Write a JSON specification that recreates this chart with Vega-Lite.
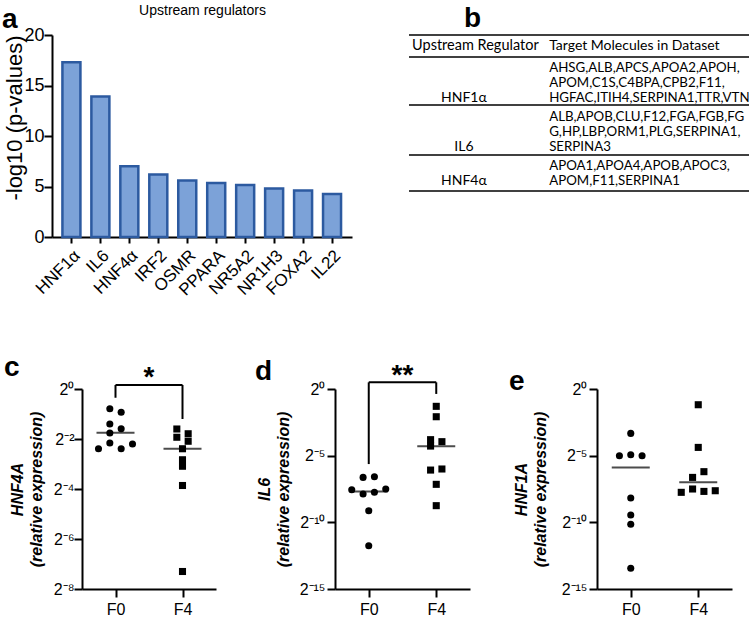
{
  "$schema": "https://vega.github.io/schema/vega-lite/v6.json",
  "padding": {"left": 2, "top": 3, "right": 0, "bottom": 0},
  "config": {
    "view": {"stroke": null},
    "font": "Liberation Sans",
    "axis": {"domainColor": "black", "domainWidth": 2, "tickColor": "black", "tickWidth": 2, "tickSize": 8, "labelColor": "black", "labelFont": "Liberation Sans", "labelFontSize": 16, "titleFont": "Liberation Sans", "titleColor": "black", "grid": false},
    "title": {"font": "Liberation Sans", "color": "black"}
  },
  "spacing": 54,
  "vconcat": [
    {
      "spacing": 26,
      "hconcat": [
        {
          "title": {"text": "a", "fontSize": 28, "fontWeight": "bold", "anchor": "start", "frame": "group", "dx": -80, "offset": -31},
          "width": 270,
          "height": 202,
          "data": {"values": [
            {"regulator": "HNF1α", "neglog10p": 17.3},
            {"regulator": "IL6", "neglog10p": 13.9},
            {"regulator": "HNF4α", "neglog10p": 7.0},
            {"regulator": "IRF2", "neglog10p": 6.2},
            {"regulator": "OSMR", "neglog10p": 5.6},
            {"regulator": "PPARA", "neglog10p": 5.35},
            {"regulator": "NR5A2", "neglog10p": 5.15},
            {"regulator": "NR1H3", "neglog10p": 4.8},
            {"regulator": "FOXA2", "neglog10p": 4.6},
            {"regulator": "IL22", "neglog10p": 4.25}
          ]},
          "resolve": {"axis": {"x": "independent"}},
          "layer": [
            {
              "mark": {"type": "bar", "fill": "#7ca2d8", "stroke": "#2c5aa0", "strokeWidth": 2.5},
              "encoding": {
                "x": {"field": "regulator", "type": "nominal", "sort": null, "scale": {"paddingInner": 0.36, "paddingOuter": 0.36, "range": [-30, 270]}, "axis": {"title": null, "labelAngle": -45, "labelFontSize": 17, "labelPadding": 4, "tickSize": 6}},
                "y": {"field": "neglog10p", "type": "quantitative", "scale": {"domain": [0, 20]}, "axis": {"title": "-log10 (p-values)", "values": [0, 5, 10, 15, 20], "offset": 30, "labelFontSize": 18, "titleFontSize": 22, "titleFontWeight": "normal", "titleAnchor": "end", "labelPadding": 0, "tickSize": 8, "titlePadding": -3}}
              }
            },
            {
              "mark": {"type": "bar", "opacity": 0},
              "encoding": {
                "x": {"field": "regulator", "type": "nominal", "sort": null, "scale": {"paddingInner": 0.36, "paddingOuter": 0.36, "range": [-30, 270]}, "axis": {"orient": "top", "title": "Upstream regulators", "domain": false, "ticks": false, "labels": false, "titleFontSize": 14, "titleFontWeight": "normal", "titlePadding": 18}},
                "y": {"field": "neglog10p", "type": "quantitative", "scale": {"domain": [0, 20]}, "axis": {"title": "-log10 (p-values)", "values": [0, 5, 10, 15, 20], "offset": 30, "labelFontSize": 18, "titleFontSize": 22, "titleFontWeight": "normal", "titleAnchor": "end", "labelPadding": 0, "tickSize": 8, "titlePadding": -3}}
              }
            }
          ]
        },
        {
          "title": {"text": "b", "fontSize": 28, "fontWeight": "bold", "anchor": "start", "frame": "group", "dx": 55, "offset": 1},
          "width": 341,
          "height": 156,
          "data": {"values": [
            {"column": "hdr_reg", "line": 0.73, "text": "Upstream Regulator"},
            {"column": "hdr_targets", "line": 0.73, "text": "Target Molecules in Dataset"},
            {"column": "targets", "line": 2.2, "text": "AHSG,ALB,APCS,APOA2,APOH,"},
            {"column": "targets", "line": 3.2, "text": "APOM,C1S,C4BPA,CPB2,F11,"},
            {"column": "targets", "line": 4.2, "text": "HGFAC,ITIH4,SERPINA1,TTR,VTN"},
            {"column": "regulator", "line": 4.2, "text": "HNF1α"},
            {"column": "targets", "line": 5.47, "text": "ALB,APOB,CLU,F12,FGA,FGB,FG"},
            {"column": "targets", "line": 6.47, "text": "G,HP,LBP,ORM1,PLG,SERPINA1,"},
            {"column": "targets", "line": 7.47, "text": "SERPINA3"},
            {"column": "regulator", "line": 7.47, "text": "IL6"},
            {"column": "targets", "line": 8.73, "text": "APOA1,APOA4,APOB,APOC3,"},
            {"column": "targets", "line": 9.73, "text": "APOM,F11,SERPINA1"},
            {"column": "regulator", "line": 9.73, "text": "HNF4α"},
            {"column": "rule", "line": 0},
            {"column": "rule", "line": 1.47},
            {"column": "rule", "line": 4.67},
            {"column": "rule", "line": 8.0},
            {"column": "rule", "line": 10.4}
          ]},
          "layer": [
            {
              "transform": [{"filter": "datum.column == 'rule'"}],
              "mark": {"type": "rule", "color": "black", "strokeWidth": 1.5},
              "encoding": {"y": {"field": "line", "type": "quantitative", "scale": {"domain": [0, 10.4], "reverse": true}, "axis": null}}
            },
            {
              "transform": [{"filter": "datum.column == 'hdr_reg'"}],
              "mark": {"type": "text", "font": "Lato", "fontSize": 14.5, "align": "left", "baseline": "middle", "color": "black"},
              "encoding": {
                "x": {"datum": 0.9, "type": "quantitative", "scale": {"domain": [0, 100]}, "axis": null},
                "y": {"field": "line", "type": "quantitative", "scale": {"domain": [0, 10.4], "reverse": true}, "axis": null},
                "text": {"field": "text"}
              }
            },
            {
              "transform": [{"filter": "datum.column == 'hdr_targets'"}],
              "mark": {"type": "text", "font": "Lato", "fontSize": 14, "align": "left", "baseline": "middle", "color": "black"},
              "encoding": {
                "x": {"datum": 41.1, "type": "quantitative", "scale": {"domain": [0, 100]}, "axis": null},
                "y": {"field": "line", "type": "quantitative", "scale": {"domain": [0, 10.4], "reverse": true}, "axis": null},
                "text": {"field": "text"}
              }
            },
            {
              "transform": [{"filter": "datum.column == 'targets'"}],
              "mark": {"type": "text", "font": "Lato", "fontSize": 13.3, "align": "left", "baseline": "middle", "color": "black"},
              "encoding": {
                "x": {"datum": 41.1, "type": "quantitative", "scale": {"domain": [0, 100]}, "axis": null},
                "y": {"field": "line", "type": "quantitative", "scale": {"domain": [0, 10.4], "reverse": true}, "axis": null},
                "text": {"field": "text"}
              }
            },
            {
              "transform": [{"filter": "datum.column == 'regulator'"}],
              "mark": {"type": "text", "font": "Lato", "fontSize": 14, "align": "center", "baseline": "middle", "color": "black"},
              "encoding": {
                "x": {"datum": 16.1, "type": "quantitative", "scale": {"domain": [0, 100]}, "axis": null},
                "y": {"field": "line", "type": "quantitative", "scale": {"domain": [0, 10.4], "reverse": true}, "axis": null},
                "text": {"field": "text"}
              }
            }
          ]
        }
      ]
    },
    {
      "spacing": 39,
      "hconcat": [
        {
          "title": {"text": "c", "fontSize": 28, "fontWeight": "bold", "anchor": "start", "frame": "group", "dx": -78, "offset": -18},
          "width": 134,
          "height": 200,
          "layer": [
            {
              "data": {"values": [
                {"group": "F0", "slot": -0.5, "log2expr": -0.79},
                {"group": "F0", "slot": 0.5, "log2expr": -0.93},
                {"group": "F0", "slot": -0.5, "log2expr": -1.4},
                {"group": "F0", "slot": 0.5, "log2expr": -1.59},
                {"group": "F0", "slot": -0.5, "log2expr": -1.76},
                {"group": "F0", "slot": -1.5, "log2expr": -2.39},
                {"group": "F0", "slot": -0.5, "log2expr": -2.16},
                {"group": "F0", "slot": 0.5, "log2expr": -2.39},
                {"group": "F0", "slot": 1.5, "log2expr": -2.2},
                {"group": "F4", "slot": -0.5, "log2expr": -1.6},
                {"group": "F4", "slot": 0.5, "log2expr": -1.79},
                {"group": "F4", "slot": -0.5, "log2expr": -1.93},
                {"group": "F4", "slot": 0.5, "log2expr": -2.09},
                {"group": "F4", "slot": 0, "log2expr": -2.39},
                {"group": "F4", "slot": 0, "log2expr": -2.83},
                {"group": "F4", "slot": 0, "log2expr": -3.09},
                {"group": "F4", "slot": 0, "log2expr": -3.86},
                {"group": "F4", "slot": 0, "log2expr": -7.3}
              ]},
              "mark": {"type": "point", "filled": true, "color": "black", "opacity": 1, "size": 50},
              "encoding": {
                "x": {"field": "group", "type": "nominal", "scale": {"type": "point", "domain": ["F0", "F0 vs F4", "F4"], "padding": 1.31}, "axis": {"title": null, "values": ["F0", "F4"], "labelAngle": 0, "labelPadding": 4}},
                "xOffset": {"field": "slot", "type": "quantitative", "scale": {"domain": [-1.5, 1.5], "range": [-17, 17]}},
                "y": {"field": "log2expr", "type": "quantitative", "scale": {"domain": [-8, 0]}, "axis": {"title": ["HNF4A", "(relative expression)"], "values": [0, -2, -4, -6, -8], "labelExpr": "datum.value == 0 ? '2⁰' : datum.value == -2 ? '2⁻²' : datum.value == -4 ? '2⁻⁴' : datum.value == -6 ? '2⁻⁶' : '2⁻⁸'", "titleFontSize": 16, "titleFontWeight": "bold", "titleFontStyle": "italic", "titleLineHeight": 19, "titlePadding": 9, "labelPadding": 0}},
                "shape": {"field": "group", "type": "nominal", "scale": {"domain": ["F0", "F4"], "range": ["circle", "square"]}, "legend": null}
              }
            },
            {
              "data": {"values": [{"group": "F0", "median": -1.75}, {"group": "F4", "median": -2.39}]},
              "mark": {"type": "tick", "orient": "horizontal", "size": 38, "thickness": 2, "color": "black"},
              "encoding": {"x": {"field": "group", "type": "nominal", "scale": {"type": "point", "domain": ["F0", "F0 vs F4", "F4"], "padding": 1.31}}, "y": {"field": "median", "type": "quantitative", "scale": {"domain": [-8, 0]}}}
            },
            {
              "data": {"values": [{"from": "F0", "to": "F4", "top": 0.16, "end": 0.16}, {"from": "F0", "to": "F0", "top": 0.16, "end": -0.35}, {"from": "F4", "to": "F4", "top": 0.16, "end": -1.2}]},
              "mark": {"type": "rule", "color": "black", "strokeWidth": 2},
              "encoding": {"x": {"field": "from", "type": "nominal", "scale": {"type": "point", "domain": ["F0", "F0 vs F4", "F4"], "padding": 1.31}}, "x2": {"field": "to"}, "y": {"field": "top", "type": "quantitative", "scale": {"domain": [-8, 0]}}, "y2": {"field": "end"}}
            },
            {
              "data": {"values": [{"comparison": "F0 vs F4", "pos": 0.13, "label": "*"}]},
              "mark": {"type": "text", "fontSize": 28, "fontWeight": "bold", "baseline": "alphabetic", "color": "black"},
              "encoding": {"x": {"field": "comparison", "type": "nominal", "scale": {"type": "point", "domain": ["F0", "F0 vs F4", "F4"], "padding": 1.31}}, "y": {"field": "pos", "type": "quantitative", "scale": {"domain": [-8, 0]}}, "text": {"field": "label"}}
            }
          ]
        },
        {
          "title": {"text": "d", "fontSize": 28, "fontWeight": "bold", "anchor": "start", "frame": "group", "dx": -80, "offset": -24},
          "width": 135,
          "height": 200,
          "layer": [
            {
              "data": {"values": [
                {"group": "F0", "slot": -0.5, "log2expr": -6.63},
                {"group": "F0", "slot": 0.5, "log2expr": -6.58},
                {"group": "F0", "slot": -1.5, "log2expr": -7.56},
                {"group": "F0", "slot": -0.5, "log2expr": -7.88},
                {"group": "F0", "slot": 0.5, "log2expr": -7.75},
                {"group": "F0", "slot": 1.5, "log2expr": -7.5},
                {"group": "F0", "slot": 0, "log2expr": -9.13},
                {"group": "F0", "slot": 0, "log2expr": -11.75},
                {"group": "F4", "slot": 0, "log2expr": -1.3},
                {"group": "F4", "slot": 0, "log2expr": -2.08},
                {"group": "F4", "slot": -0.5, "log2expr": -3.8},
                {"group": "F4", "slot": 0.5, "log2expr": -3.95},
                {"group": "F4", "slot": -0.5, "log2expr": -4.28},
                {"group": "F4", "slot": -0.5, "log2expr": -6.08},
                {"group": "F4", "slot": 0.5, "log2expr": -6.0},
                {"group": "F4", "slot": 0, "log2expr": -7.15},
                {"group": "F4", "slot": 0, "log2expr": -8.75}
              ]},
              "mark": {"type": "point", "filled": true, "color": "black", "opacity": 1, "size": 50},
              "encoding": {
                "x": {"field": "group", "type": "nominal", "scale": {"type": "point", "domain": ["F0", "F0 vs F4", "F4"], "padding": 1.31}, "axis": {"title": null, "values": ["F0", "F4"], "labelAngle": 0, "labelPadding": 4}},
                "xOffset": {"field": "slot", "type": "quantitative", "scale": {"domain": [-1.5, 1.5], "range": [-17, 17]}},
                "y": {"field": "log2expr", "type": "quantitative", "scale": {"domain": [-15, 0]}, "axis": {"title": ["IL6", "(relative expression)"], "values": [0, -5, -10, -15], "labelExpr": "datum.value == 0 ? '2⁰' : datum.value == -5 ? '2⁻⁵' : datum.value == -10 ? '2⁻¹⁰' : '2⁻¹⁵'", "titleFontSize": 16, "titleFontWeight": "bold", "titleFontStyle": "italic", "titleLineHeight": 19, "titlePadding": 8, "labelPadding": 2}},
                "shape": {"field": "group", "type": "nominal", "scale": {"domain": ["F0", "F4"], "range": ["circle", "square"]}, "legend": null}
              }
            },
            {
              "data": {"values": [{"group": "F0", "median": -7.68}, {"group": "F4", "median": -4.3}]},
              "mark": {"type": "tick", "orient": "horizontal", "size": 38, "thickness": 2, "color": "black"},
              "encoding": {"x": {"field": "group", "type": "nominal", "scale": {"type": "point", "domain": ["F0", "F0 vs F4", "F4"], "padding": 1.31}}, "y": {"field": "median", "type": "quantitative", "scale": {"domain": [-15, 0]}}}
            },
            {
              "data": {"values": [{"from": "F0", "to": "F4", "top": 0.5, "end": 0.5}, {"from": "F0", "to": "F0", "top": 0.5, "end": -5.63}, {"from": "F4", "to": "F4", "top": 0.5, "end": -0.37}]},
              "mark": {"type": "rule", "color": "black", "strokeWidth": 2},
              "encoding": {"x": {"field": "from", "type": "nominal", "scale": {"type": "point", "domain": ["F0", "F0 vs F4", "F4"], "padding": 1.31}}, "x2": {"field": "to"}, "y": {"field": "top", "type": "quantitative", "scale": {"domain": [-15, 0]}}, "y2": {"field": "end"}}
            },
            {
              "data": {"values": [{"comparison": "F0 vs F4", "pos": 0.4, "label": "**"}]},
              "mark": {"type": "text", "fontSize": 28, "fontWeight": "bold", "baseline": "alphabetic", "color": "black"},
              "encoding": {"x": {"field": "comparison", "type": "nominal", "scale": {"type": "point", "domain": ["F0", "F0 vs F4", "F4"], "padding": 1.31}}, "y": {"field": "pos", "type": "quantitative", "scale": {"domain": [-15, 0]}}, "text": {"field": "label"}}
            }
          ]
        },
        {
          "title": {"text": "e", "fontSize": 28, "fontWeight": "bold", "anchor": "start", "frame": "group", "dx": -88, "offset": -15},
          "width": 135,
          "height": 200,
          "layer": [
            {
              "data": {"values": [
                {"group": "F0", "slot": 0, "log2expr": -3.33},
                {"group": "F0", "slot": -1, "log2expr": -5.0},
                {"group": "F0", "slot": 0, "log2expr": -4.93},
                {"group": "F0", "slot": 1, "log2expr": -5.0},
                {"group": "F0", "slot": 0, "log2expr": -8.18},
                {"group": "F0", "slot": 0, "log2expr": -9.45},
                {"group": "F0", "slot": 0, "log2expr": -10.15},
                {"group": "F0", "slot": 0, "log2expr": -13.45},
                {"group": "F4", "slot": 0, "log2expr": -1.18},
                {"group": "F4", "slot": 0, "log2expr": -4.38},
                {"group": "F4", "slot": -0.5, "log2expr": -6.63},
                {"group": "F4", "slot": 0.5, "log2expr": -6.2},
                {"group": "F4", "slot": -1.5, "log2expr": -7.75},
                {"group": "F4", "slot": -0.5, "log2expr": -7.5},
                {"group": "F4", "slot": 0.5, "log2expr": -7.68},
                {"group": "F4", "slot": 1.5, "log2expr": -7.63}
              ]},
              "mark": {"type": "point", "filled": true, "color": "black", "opacity": 1, "size": 50},
              "encoding": {
                "x": {"field": "group", "type": "nominal", "scale": {"type": "point", "domain": ["F0", "F0 vs F4", "F4"], "padding": 1.31}, "axis": {"title": null, "values": ["F0", "F4"], "labelAngle": 0, "labelPadding": 4}},
                "xOffset": {"field": "slot", "type": "quantitative", "scale": {"domain": [-1.5, 1.5], "range": [-17, 17]}},
                "y": {"field": "log2expr", "type": "quantitative", "scale": {"domain": [-15, 0]}, "axis": {"title": ["HNF1A", "(relative expression)"], "values": [0, -5, -10, -15], "labelExpr": "datum.value == 0 ? '2⁰' : datum.value == -5 ? '2⁻⁵' : datum.value == -10 ? '2⁻¹⁰' : '2⁻¹⁵'", "titleFontSize": 16, "titleFontWeight": "bold", "titleFontStyle": "italic", "titleLineHeight": 19, "titlePadding": 13, "labelPadding": 2}},
                "shape": {"field": "group", "type": "nominal", "scale": {"domain": ["F0", "F4"], "range": ["circle", "square"]}, "legend": null}
              }
            },
            {
              "data": {"values": [{"group": "F0", "median": -5.88}, {"group": "F4", "median": -7.0}]},
              "mark": {"type": "tick", "orient": "horizontal", "size": 38, "thickness": 2, "color": "black"},
              "encoding": {"x": {"field": "group", "type": "nominal", "scale": {"type": "point", "domain": ["F0", "F0 vs F4", "F4"], "padding": 1.31}}, "y": {"field": "median", "type": "quantitative", "scale": {"domain": [-15, 0]}}}
            }
          ]
        }
      ]
    }
  ]
}
